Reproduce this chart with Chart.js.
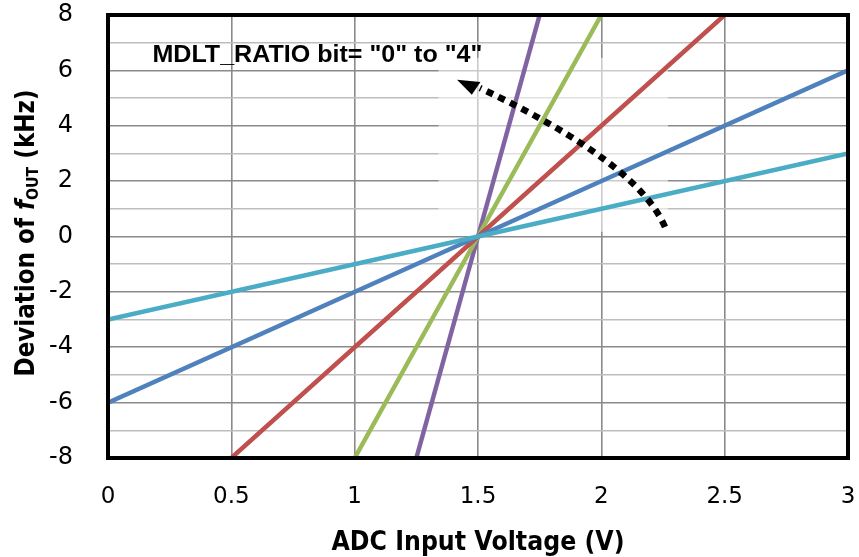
<!DOCTYPE html>
<html>
<head>
<meta charset="utf-8">
<script src="https://cdn.jsdelivr.net/npm/chart.js@4/dist/chart.umd.min.js"></script>
<style>
html,body{margin:0;padding:0;background:#fff;}
#wrap{width:859px;height:557px;}
</style>
</head>
<body>
<div id="wrap"><canvas id="c" width="859" height="557"></canvas></div>
<script>
// ---- data ----
const xTickValues = [0, 0.5, 1, 1.5, 2, 2.5, 3];
const yTickValues = [-8, -6, -4, -2, 0, 2, 4, 6, 8];

const seriesNames = ['MDLT_RATIO 0', 'MDLT_RATIO 1', 'MDLT_RATIO 2', 'MDLT_RATIO 3', 'MDLT_RATIO 4'];
const ratio0X = [0, 1.5, 3];
const ratio0Y = [-3, 0, 3];
const ratio1X = [0, 1.5, 3];
const ratio1Y = [-6, 0, 6];
const ratio2X = [0.5, 1.5, 2.5];
const ratio2Y = [-8, 0, 8];
const ratio3X = [1, 1.5, 2];
const ratio3Y = [-8, 0, 8];
const ratio4X = [1.25, 1.5, 1.75];
const ratio4Y = [-8, 0, 8];

const annotationText = 'MDLT_RATIO bit= "0" to "4"';
const xTitle = 'ADC Input Voltage (V)';

// ---- styling ----
const colors = ['#4BACC6', '#4F81BD', '#C0504D', '#9BBB59', '#8064A2'];
const allX = [ratio0X, ratio1X, ratio2X, ratio3X, ratio4X];
const allY = [ratio0Y, ratio1Y, ratio2Y, ratio3Y, ratio4Y];

const datasets = seriesNames.map((name, i) => ({
  label: name,
  data: allX[i].map((x, k) => ({x: x, y: allY[i][k]})),
  showLine: true,
  borderColor: colors[i],
  backgroundColor: colors[i],
  borderWidth: 4.5,
  pointRadius: 0,
  fill: false,
  tension: 0
}));

// annotation geometry (in data units)
const annot = {
  textX: 0.18, textY: 6.3,
  curve: {p0: [2.258, 0.344], c: [2.147, 2.673], p2: [1.508, 5.364]},
  head: [[1.415, 5.66], [1.51, 5.58], [1.475, 5.12]],
  fade: {x0: 1.34, x1: 2.27, y0: 6.45, y1: 0.17}
};

function zeroPad(s) { s.paddingTop = 0; s.paddingBottom = 0; s.paddingLeft = 0; s.paddingRight = 0; }

const decorPlugin = {
  id: 'decor',
  beforeDatasetsDraw(chart) {
    const {ctx, scales: {x, y}} = chart;
    ctx.save();
    ctx.fillStyle = 'rgba(255,255,255,0.55)';
    const fx0 = x.getPixelForValue(annot.fade.x0), fx1 = x.getPixelForValue(annot.fade.x1);
    const fy0 = y.getPixelForValue(annot.fade.y0), fy1 = y.getPixelForValue(annot.fade.y1);
    ctx.fillRect(fx0, fy0, fx1 - fx0, fy1 - fy0);
    ctx.restore();
  },
  afterDatasetsDraw(chart) {
    const {ctx, chartArea: a, scales: {x, y}} = chart;
    ctx.save();
    // plot border
    ctx.strokeStyle = '#000';
    ctx.lineWidth = 4;
    ctx.strokeRect(a.left, a.top, a.right - a.left, a.bottom - a.top);

    // annotation text
    ctx.fillStyle = '#000';
    ctx.font = 'bold 23px "Liberation Sans", Arial, sans-serif';
    ctx.textBaseline = 'alphabetic';
    ctx.textAlign = 'left';
    const aw = ctx.measureText(annotationText).width;
    ctx.save();
    ctx.translate(x.getPixelForValue(annot.textX), y.getPixelForValue(annot.textY));
    ctx.scale(330 / aw, 1);
    ctx.fillText(annotationText, 0, 0);
    ctx.restore();

    // dotted curved arrow
    const P = p => [x.getPixelForValue(p[0]), y.getPixelForValue(p[1])];
    const p0 = P(annot.curve.p0), c = P(annot.curve.c), p2 = P(annot.curve.p2);
    ctx.beginPath();
    ctx.setLineDash([7, 6]);
    ctx.lineWidth = 6.5;
    ctx.lineCap = 'butt';
    ctx.strokeStyle = '#000';
    ctx.moveTo(p0[0], p0[1]);
    ctx.quadraticCurveTo(c[0], c[1], p2[0], p2[1]);
    ctx.stroke();
    ctx.setLineDash([]);
    const h = annot.head.map(P);
    ctx.beginPath();
    ctx.moveTo(h[0][0], h[0][1]);
    ctx.lineTo(h[1][0], h[1][1]);
    ctx.lineTo(h[2][0], h[2][1]);
    ctx.closePath();
    ctx.fill();
    ctx.restore();
  },
  afterDraw(chart) {
    const {ctx, chartArea: a} = chart;
    ctx.save();
    ctx.fillStyle = '#000';
    // x title
    ctx.font = 'bold 27px "DejaVu Sans", sans-serif';
    ctx.textBaseline = 'alphabetic';
    ctx.textAlign = 'center';
    const tw = ctx.measureText(xTitle).width;
    ctx.translate((a.left + a.right) / 2, 550);
    ctx.scale(293 / tw, 1);
    ctx.fillText(xTitle, 0, 0);
    ctx.restore();

    // y title with italic f and subscript OUT
    ctx.save();
    ctx.fillStyle = '#000';
    ctx.translate(34, 233);
    ctx.rotate(-Math.PI / 2);
    ctx.textBaseline = 'alphabetic';
    ctx.textAlign = 'left';
    const fMain = 'bold 26px "DejaVu Sans", sans-serif';
    const fItal = 'italic bold 26px "DejaVu Sans", sans-serif';
    const fSub = 'bold 16px "DejaVu Sans", sans-serif';
    const parts = [
      {t: 'Deviation of ', f: fMain, dy: 0},
      {t: 'f', f: fItal, dy: 0},
      {t: 'OUT', f: fSub, dy: 4},
      {t: ' (kHz)', f: fMain, dy: 0}
    ];
    let total = 0;
    parts.forEach(p => { ctx.font = p.f; p.w = ctx.measureText(p.t).width; total += p.w; });
    const sc = 287 / total;
    ctx.scale(sc, 1);
    let cx = -total / 2;
    parts.forEach(p => { ctx.font = p.f; ctx.fillText(p.t, cx, p.dy); cx += p.w; });
    ctx.restore();
  }
};

new Chart(document.getElementById('c'), {
  type: 'scatter',
  data: {datasets: datasets},
  options: {
    responsive: false,
    animation: false,
    layout: {padding: {top: 15, right: 11, left: 0, bottom: 0}},
    plugins: {legend: {display: false}, tooltip: {enabled: false}},
    scales: {
      x: {
        type: 'linear', min: 0, max: 3,
        afterFit(s) { s.height = 99; zeroPad(s); },
        afterBuildTicks(s) { s.ticks = xTickValues.map(v => ({value: v})); },
        border: {display: false},
        grid: {color: '#8a8a8a', lineWidth: 1.6, drawTicks: false},
        ticks: {
          color: '#000', padding: 25, autoSkip: false, maxRotation: 0,
          font: {family: '"DejaVu Sans", sans-serif', size: 23},
          callback: v => String(v)
        }
      },
      y: {
        type: 'linear', min: -8, max: 8,
        afterFit(s) { s.width = 108; zeroPad(s); },
        afterBuildTicks(s) {
          const t = [];
          for (let v = -8; v <= 8; v++) t.push({value: v});
          s.ticks = t;
        },
        border: {display: false},
        grid: {
          drawTicks: false,
          lineWidth: 1.6,
          color: c => (Math.abs(c.tick.value) % 2 === 0 ? '#8a8a8a' : '#bdbdbd')
        },
        ticks: {
          color: '#000', padding: 35, autoSkip: false,
          font: {family: '"DejaVu Sans", sans-serif', size: 24},
          callback: v => (yTickValues.includes(v) ? String(v) : '')
        }
      }
    }
  },
  plugins: [decorPlugin]
});
</script>
</body>
</html>
